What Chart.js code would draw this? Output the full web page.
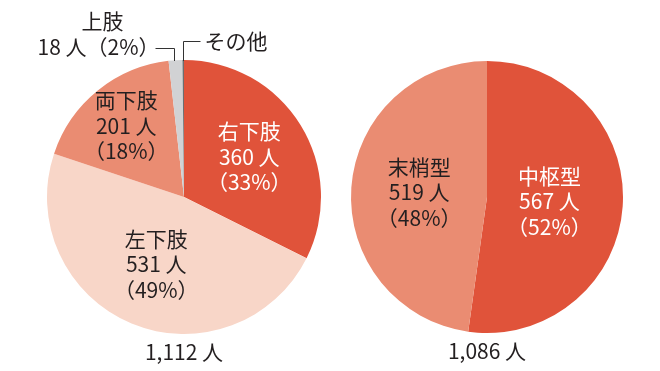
<!DOCTYPE html>
<html lang="ja">
<head>
<meta charset="utf-8">
<script src="https://cdn.jsdelivr.net/npm/chart.js@4/dist/chart.umd.min.js"></script>
<style>
    html, body { margin: 0; padding: 0; background: #fff; }
    #wrap { position: relative; width: 660px; height: 371px; }
    canvas { position: absolute; top: 0; }
    #leftChart { left: 0; }
    #rightChart { left: 330px; }
</style>
</head>
<body>
<div id="wrap">
    <canvas id="leftChart" width="330" height="371"></canvas>
    <canvas id="rightChart" width="330" height="371"></canvas>
</div>
<script>
// 部位別
const siteLabels = ['右下肢', '左下肢', '両下肢', '上肢', 'その他'];
const siteCounts = [360, 531, 201, 18, 2];
const sitePct = [33, 49, 18, 2, null];
const siteTotal = '1,112 人';

// 型別
const typeLabels = ['中枢型', '末梢型'];
const typeCounts = [567, 519];
const typePct = [52, 48];
const typeTotal = '1,086 人';

const FONT = '"Noto Sans CJK JP", "Noto Sans", sans-serif';
const DARK = '#231f20';

// Label plugin: text inside slices, leader lines for tiny slices, total below pie
const sliceLabels = {
    id: 'sliceLabels',
    afterDatasetsDraw(chart, args, opts) {
        const ctx = chart.ctx;
        const meta = chart.getDatasetMeta(0);
        const names = chart.data.labels;
        const counts = chart.data.datasets[0].data;
        const pcts = opts.pct;

        ctx.save();
        ctx.font = '21px ' + FONT;
        ctx.textBaseline = 'middle';

        meta.data.forEach((arc, i) => {
            const mid = (arc.startAngle + arc.endAngle) / 2;
            const inside = opts.inside[i];
            const outside = opts.outside[i];

            if (inside) {
                const r = arc.outerRadius * inside.r;
                const x = arc.x + Math.cos(mid) * r;
                const y = arc.y + Math.sin(mid) * r;
                const lines = [names[i], counts[i] + ' 人', '（' + pcts[i] + '%）'];
                ctx.fillStyle = inside.color;
                ctx.textAlign = 'center';
                lines.forEach((t, k) => {
                    ctx.fillText(t, x, y + (k - 1) * 25.5);
                });
            }

            if (outside) {
                const ex = Math.round(arc.x + Math.cos(mid) * arc.outerRadius + outside.shift) + 0.5;
                const ey = arc.y - arc.outerRadius;
                const ky = Math.round(ey - outside.rise) + 0.5;
                const hx = ex + outside.len * outside.dir;
                ctx.strokeStyle = '#333';
                ctx.lineWidth = 1;
                ctx.beginPath();
                ctx.moveTo(ex, ey + 1);
                ctx.lineTo(ex, ky);
                ctx.lineTo(hx, ky);
                ctx.stroke();

                ctx.fillStyle = DARK;
                if (outside.dir < 0) {
                    // fullwidth paren carries its own right-side gap
                    ctx.textAlign = 'right';
                    const second = counts[i] + ' 人（' + pcts[i] + '%）';
                    const w = ctx.measureText(second).width;
                    ctx.fillText(second, hx + 4, ky - 1);
                    ctx.textAlign = 'center';
                    ctx.fillText(names[i], hx + 4 - w / 2 + 4, ky - 27);
                } else {
                    ctx.textAlign = 'left';
                    ctx.fillText(names[i], hx + 4, ky);
                }
            }
        });

        // total below the pie
        const first = meta.data[0];
        ctx.fillStyle = DARK;
        ctx.textAlign = 'center';
        ctx.fillText(opts.total, first.x, first.y + first.outerRadius + 18);
        ctx.restore();
    }
};

function makePie(id, labels, values, colors, padding, pluginOpts) {
    return new Chart(document.getElementById(id), {
        type: 'pie',
        data: {
            labels: labels,
            datasets: [{
                data: values,
                backgroundColor: colors,
                borderWidth: 0
            }]
        },
        options: {
            responsive: false,
            animation: false,
            layout: { padding: padding },
            plugins: {
                legend: { display: false },
                tooltip: { enabled: false },
                sliceLabels: pluginOpts
            }
        },
        plugins: [sliceLabels]
    });
}

makePie('leftChart', siteLabels, siteCounts,
    ['#e0533a', '#f8d6c8', '#ea8c72', '#d1d2d4', '#6d6e70'],
    { left: 47, right: 9, top: 60, bottom: 37 },
    {
        pct: sitePct,
        total: siteTotal,
        inside: {
            0: { r: 0.56, color: '#ffffff' },
            1: { r: 0.53, color: DARK },
            2: { r: 0.67, color: DARK }
        },
        outside: {
            3: { rise: 12, len: 19, dir: -1, shift: -1 },
            4: { rise: 19, len: 17, dir: 1, shift: 0 }
        }
    });

makePie('rightChart', typeLabels, typeCounts,
    ['#e0533a', '#ea8c72'],
    { left: 21, right: 37, top: 61, bottom: 38 },
    {
        pct: typePct,
        total: typeTotal,
        inside: {
            0: { r: 0.46, color: '#ffffff' },
            1: { r: 0.5, color: DARK }
        },
        outside: {}
    });
</script>
</body>
</html>
